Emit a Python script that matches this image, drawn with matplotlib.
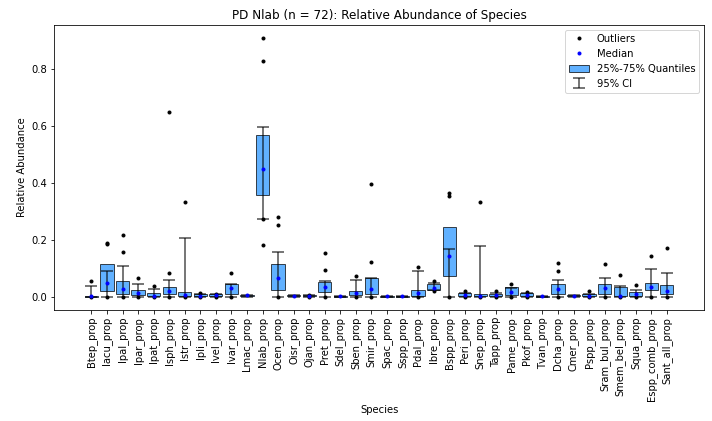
import matplotlib
matplotlib.use('Agg')
import matplotlib.pyplot as plt
from matplotlib.lines import Line2D
from matplotlib.patches import Patch
import numpy as np

# summary stats per species (relative abundance, PD Nlab, n = 72)
species = ['Btep_prop', 'Iacu_prop', 'Ipal_prop', 'Ipar_prop', 'Ipat_prop', 'Isph_prop',
           'Istr_prop', 'Ipli_prop', 'Ivel_prop', 'Ivar_prop', 'Lmac_prop', 'Nlab_prop',
           'Ocen_prop', 'Oisr_prop', 'Ojan_prop', 'Pret_prop', 'Sdel_prop', 'Sben_prop',
           'Smir_prop', 'Spac_prop', 'Sspp_prop', 'Pdal_prop', 'Ibre_prop', 'Bspp_prop',
           'Peri_prop', 'Snep_prop', 'Tapp_prop', 'Pame_prop', 'Pkof_prop', 'Tvan_prop',
           'Dcha_prop', 'Cmer_prop', 'Pspp_prop', 'Sram_bul_prop', 'Smem_bel_prop',
           'Squa_prop', 'Espp_comb_prop', 'Sant_all_prop']

q25 = [0.000, 0.022, 0.011, 0.006, 0.002, 0.011, 0.002, 0.002, 0.002, 0.010, 0.003, 0.360,
       0.024, 0.002, 0.002, 0.016, 0.001, 0.008, 0.009, 0.001, 0.001, 0.003, 0.024, 0.074,
       0.004, 0.002, 0.004, 0.007, 0.003, 0.001, 0.010, 0.004, 0.003, 0.010, 0.003,
       0.005, 0.024, 0.010]
q75 = [0.005, 0.116, 0.058, 0.024, 0.013, 0.036, 0.016, 0.010, 0.010, 0.046, 0.008, 0.571,
       0.116, 0.006, 0.006, 0.054, 0.003, 0.020, 0.066, 0.003, 0.003, 0.024, 0.045, 0.246,
       0.013, 0.010, 0.012, 0.034, 0.013, 0.003, 0.045, 0.006, 0.011, 0.047, 0.035,
       0.016, 0.048, 0.041]
median = [0.003, 0.048, 0.027, 0.013, 0.005, 0.021, 0.008, 0.004, 0.007, 0.032, 0.006, 0.450,
          0.066, 0.004, 0.004, 0.035, 0.002, 0.013, 0.027, 0.002, 0.002, 0.013, 0.031, 0.145,
          0.008, 0.003, 0.006, 0.018, 0.006, 0.002, 0.028, 0.005, 0.004, 0.030, 0.004,
          0.011, 0.036, 0.020]
ci_low = [0.000, 0.000, 0.000, 0.000, 0.000, 0.000, 0.000, 0.000, 0.000, 0.000, 0.000, 0.274,
          0.000, 0.000, 0.000, 0.000, 0.000, 0.000, 0.000, 0.000, 0.000, 0.000, 0.024, 0.000,
          0.000, 0.000, 0.000, 0.000, 0.000, 0.000, 0.000, 0.000, 0.000, 0.000, 0.000,
          0.000, 0.000, 0.000]
ci_high = [0.040, 0.093, 0.110, 0.045, 0.027, 0.059, 0.207, 0.012, 0.010, 0.045, 0.008, 0.598,
           0.159, 0.006, 0.006, 0.055, 0.003, 0.061, 0.068, 0.003, 0.003, 0.093, 0.050, 0.168,
           0.015, 0.179, 0.014, 0.030, 0.013, 0.003, 0.059, 0.006, 0.012, 0.066, 0.040,
           0.026, 0.100, 0.086]
outliers = [[0.0, 0.058], [0.0, 0.186, 0.190], [0.0, 0.159, 0.219], [0.0, 0.066],
            [0.0, 0.040], [0.0, 0.086, 0.651], [0.0, 0.333], [0.0, 0.013], [0.0, 0.011],
            [0.0, 0.086], [], [0.182, 0.274, 0.828, 0.911], [0.0, 0.252, 0.280], [],
            [0.0, 0.008], [0.0, 0.096, 0.154], [], [0.0, 0.075], [0.0, 0.123, 0.397], [], [],
            [0.0, 0.107], [0.022, 0.057], [0.0, 0.356, 0.364], [0.0, 0.020], [0.0, 0.333],
            [0.0, 0.020], [0.0, 0.045], [0.0, 0.019], [], [0.0, 0.093, 0.121], [],
            [0.0, 0.020], [0.0, 0.116], [0.0, 0.078], [0.0, 0.044], [0.0, 0.145],
            [0.0, 0.172]]

x = np.arange(len(species))

fig = plt.figure(figsize=(712 / 72, 421 / 72), dpi=72)
ax = fig.add_axes([0.076, 0.2637, 0.913, 0.677])

q25_a = np.array(q25)
q75_a = np.array(q75)
boxes = ax.bar(x, q75_a - q25_a, bottom=q25_a, width=0.85, color='dodgerblue', alpha=0.7,
               edgecolor='black', linewidth=1, zorder=2)

med = np.array(median)
yerr = np.vstack([med - np.array(ci_low), np.array(ci_high) - med])
ci = ax.errorbar(x, med, yerr=yerr, fmt='none', ecolor='black', alpha=0.7, elinewidth=1.5,
                 capsize=6, capthick=1.5, zorder=3)

for i, pts in enumerate(outliers):
    if pts:
        ax.plot([x[i]] * len(pts), pts, 'o', color='black', markersize=3, zorder=4)

ax.plot(x, med, 'o', color='blue', markersize=3, zorder=5)

ax.set_xlim(-2.4, 39.4)
ax.set_ylim(-0.0455, 0.956)
ax.set_xticks(x)
ax.set_xticklabels(species, rotation=90)
ax.set_xlabel('Species')
ax.set_ylabel('Relative Abundance')
ax.set_title('PD Nlab (n = 72): Relative Abundance of Species')

handles = [Line2D([], [], marker='o', color='black', linestyle='none', markersize=3),
           Line2D([], [], marker='o', color='blue', linestyle='none', markersize=3),
           Patch(facecolor='dodgerblue', alpha=0.7, edgecolor='black'),
           ci]
ax.legend(handles, ['Outliers', 'Median', '25%-75% Quantiles', '95% CI'], loc='upper right')

fig.savefig('out.png', dpi=72)
